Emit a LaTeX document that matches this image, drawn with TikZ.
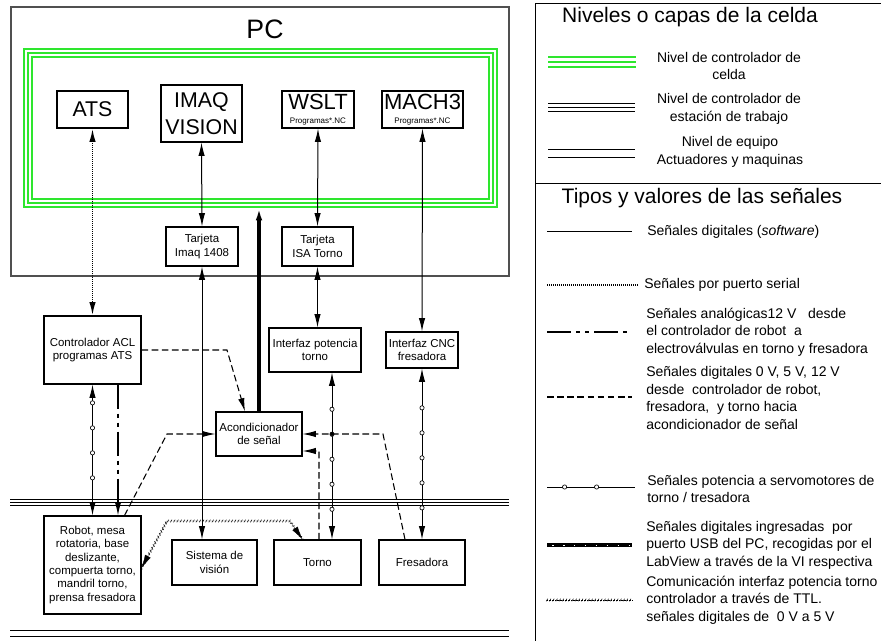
\documentclass[tikz,border=0pt]{standalone}
\usepackage{fontspec}
\setmainfont{Liberation Sans}
\usetikzlibrary{arrows.meta,decorations.markings}
\definecolor{celdaverde}{HTML}{2EE62E}
\definecolor{pcgris}{HTML}{505050}

\begin{document}
\begin{tikzpicture}[x=0.75pt,y=-0.75pt,
    >={Latex[length=10pt,width=4.8pt]},
    caja/.style={draw,line width=0.8pt,align=center,inner sep=0pt,font=\fontsize{8.6}{10}\selectfont},
    cajagrande/.style={caja,font=\fontsize{16}{20.5}\selectfont},
    programa/.style={caja,font=\fontsize{16.5}{10}\selectfont},
    celda/.style={draw=celdaverde,line width=0.9pt},
    nivel/.style={draw,line width=0.7pt},
    software/.style={line width=0.75pt},
    serial/.style={line width=1.3pt,dash pattern=on 1pt off 0.5pt},
    analogica/.style={line width=0.8pt,dash pattern=on 18pt off 3.75pt on 3pt off 3.75pt on 3pt off 3.75pt},
    digital/.style={line width=0.8pt,dash pattern=on 5pt off 2.6pt},
    potencia/.style n args={3}{line width=0.75pt,postaction={decorate},
      decoration={markings,mark=between positions #1 and #2 step #3 with {\draw[-,solid,line width=0.5pt,fill=white] (0,0) circle (1.6pt);}}},
    usb/.style={line width=2.6pt},
    ttl/.style={line width=0.35pt,dash pattern=on 0.6pt off 0.6pt,postaction={decorate},
      decoration={markings,mark=between positions 0 and 1 step 2.4pt with {\draw[-,solid,line width=0.4pt] (-0.6pt,-1pt) -- (0.6pt,1pt);}}},
    leyenda/.style={font=\fontsize{10.5}{13.1}\selectfont,align=left,anchor=west,inner sep=0pt},
    nivelleyenda/.style={leyenda,anchor=center,align=center},
    titulo/.style={font=\fontsize{15.75}{18}\selectfont,inner sep=0pt}]
  \useasboundingbox (0,0) rectangle (881,641);

  % PC y nivel de celda
  \draw[pcgris,line width=1pt] (11,7) rectangle (509,276);
  \node[font=\fontsize{20}{24}\selectfont,inner sep=0pt] (pc) at (265,29.5) {PC};
  \coordinate (celdaNO) at (24,49);
  \coordinate (celdaSE) at (497,207);
  \foreach \d in {0,4,8} \draw[celda] (24+\d,49+\d) rectangle (497-\d,207-\d);

  % programas
  \node[cajagrande,minimum width=53.25pt,minimum height=27.75pt] (ats) at (92.5,109.5) {ATS};
  \node[cajagrande,minimum width=60.75pt,minimum height=42.75pt] (imaq) at (201.5,113.5) {IMAQ\\VISION};
  \node[programa,minimum width=54pt,minimum height=27.75pt] (wslt) at (318,109.5) {WSLT\\{\fontsize{6}{7}\selectfont Programas*.NC}};
  \node[programa,minimum width=60.75pt,minimum height=27.75pt] (mach) at (422.5,109.5) {MACH3\\{\fontsize{6}{7}\selectfont Programas*.NC}};

  % tarjetas, interfaces y equipos
  \node[caja,minimum width=54pt,minimum height=29.25pt] (tarjimaq) at (202,246.5) {Tarjeta\\Imaq 1408};
  \node[caja,minimum width=53.25pt,minimum height=29.25pt] (tarjisa) at (317.5,246.5) {Tarjeta\\ISA Torno};
  \node[caja,minimum width=72.75pt,minimum height=51pt] (acl) at (92.5,350) {Controlador ACL\\programas ATS};
  \node[caja,minimum width=69pt,minimum height=33pt] (intorno) at (315,350) {Interfaz potencia\\torno};
  \node[caja,minimum width=54pt,minimum height=27pt] (intcnc) at (422,350) {Interfaz CNC\\fresadora};
  \node[caja,minimum width=64.5pt,minimum height=33pt] (acond) at (259,434) {Acondicionador\\de señal};
  \node[caja,minimum width=72.75pt,minimum height=73.5pt] (robot) at (92.5,565) {Robot, mesa\\rotatoria, base\\deslizante,\\compuerta torno,\\mandril torno,\\prensa fresadora};
  \node[caja,minimum width=63.75pt,minimum height=33.75pt] (sistema) at (214.5,562.5) {Sistema de\\visión};
  \node[caja,minimum width=65.25pt,minimum height=33.75pt] (torno) at (317.5,562.5) {Torno};
  \node[caja,minimum width=64.5pt,minimum height=33.75pt] (fresadora) at (422,562.5) {Fresadora};

  % niveles de estacion y de equipo
  \foreach \y in {499,502,505} \draw[nivel] (10,\y) -- (509,\y);
  \foreach \y in {630,636} \draw[nivel] (10,\y) -- (509,\y);

  % conexiones
  \coordinate (xpot) at (332,0);
  \coordinate (xana) at (118,0);
  \coordinate (ytorno) at (0,451);
  \draw[serial,<->] (ats.south) -- (acl.north);
  \draw[software,<->] (imaq.south) -- (tarjimaq.north);
  \draw[software,<->] (tarjimaq.south) -- (tarjimaq.south |- sistema.north);
  \draw[software,<->] (wslt.south) -- (tarjisa.north);
  \draw[software,<->] (tarjisa.south) -- (tarjisa.south |- intorno.north);
  \draw[software,<->] (mach.south) -- (intcnc.north);
  \draw[usb,->] (acond.north) -- (acond.north |- celdaSE);
  \draw[potencia={0.14}{0.8}{18.75pt},<->] (acl.south) -- (robot.north);
  \draw[potencia={0.22}{0.85}{18.75pt},<->] (xpot |- intorno.south) -- (xpot |- torno.north);
  \draw[potencia={0.23}{0.83}{18.75pt},<->] (intcnc.south) -- (fresadora.north);
  \fill (xpot |- acond.east) circle (2);
  \draw[analogica,->] (xana |- acl.south) -- (xana |- robot.north);
  \draw[digital,->] (acl.east) -- (227,350) -- ([xshift=-10.5pt]acond.north);
  \draw[digital,->] ([xshift=24pt]robot.north) -- (167,434) -- (acond.west);
  \draw[digital,->] ([xshift=-12.75pt]fresadora.north) -- (383,434) -- (acond.east);
  \draw[digital,->] ([xshift=1.1pt]torno.north) -- (319,451) -- (acond.east |- ytorno);
  \draw[ttl,<->] ([yshift=-2.25pt]robot.east) -- (167,521) -- (290,521) -- ([xshift=-11.25pt]torno.north);

  % leyenda
  \draw[nivel] (535,641) -- (535,3) -- (881,3);
  \draw[nivel] (535,183) -- (881,183);
  \node[titulo] (tniveles) at (690,17) {Niveles o capas de la celda};
  \foreach \y in {57,62,67} \draw[celda] (548,\y) -- (636,\y);
  \node[nivelleyenda] (lcelda) at (729,66) {Nivel de controlador de\\celda};
  \foreach \y in {103,107,111} \draw[nivel] (548,\y) -- (635,\y);
  \node[nivelleyenda] (lestacion) at (729,109) {Nivel de controlador de\\estación de trabajo};
  \foreach \y in {149,157} \draw[nivel] (548,\y) -- (635,\y);
  \node[nivelleyenda] (lequipo) at (730,152) {Nivel de equipo\\Actuadores y maquinas};

  \node[titulo] (tsenales) at (702,198) {Tipos y valores de las señales};
  \draw[software] (547,232) -- (632,232);
  \node[leyenda] (lsoftware) at (647,232) {Señales digitales (\textit{software})};
  \draw[serial] (547,285) -- (638,285);
  \node[leyenda] (lserial) at (644,285) {Señales por puerto serial};
  \draw[analogica] (547,332) -- (632,332);
  \node[leyenda] (lanalogica) at (646,332) {Señales analógicas12 V~~ desde\\el controlador de robot~ a\\electroválvulas en torno y fresadora};
  \draw[digital] (547,397) -- (632,397);
  \node[leyenda] (ldigital) at (646,398) {Señales digitales 0 V, 5 V, 12 V\\desde~ controlador de robot,\\fresadora,~ y torno hacia\\acondicionador de señal};
  \draw[potencia={0.2}{0.6}{24pt}] (547,487) -- (635,487);
  \node[leyenda] (lpotencia) at (647,489) {Señales potencia a servomotores de\\torno / tresadora};
  \draw[usb] (547,545) -- (632,545);
  \draw[white,line width=0.6pt,dash pattern=on 1.2pt off 7pt] (552,545) -- (632,545);
  \node[leyenda] (lusb) at (646,545) {Señales digitales ingresadas~ por\\puerto USB del PC, recogidas por el\\LabView a través de la VI respectiva};
  \draw[ttl] (547,600) -- (632,600);
  \node[leyenda] (lttl) at (646,600) {Comunicación interfaz potencia torno\\controlador a través de TTL.\\señales digitales de~ 0 V a 5 V};
\end{tikzpicture}
\end{document}
